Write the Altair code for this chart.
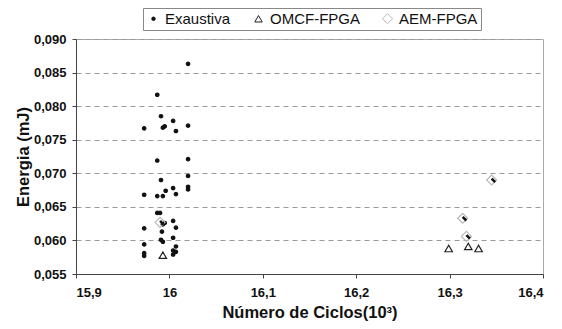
import altair as alt
import pandas as pd

# Exaustiva (black dots)
exa_x = [16.020, 15.987, 15.991, 16.004, 15.973, 15.993, 15.995, 16.007, 16.020,
         15.987, 16.020, 15.991, 16.020, 16.020, 16.020, 16.004, 15.996, 15.973,
         15.987, 15.993, 16.007, 15.987, 15.990, 16.004, 15.993, 15.995, 15.973,
         16.007, 15.992, 16.004, 15.991, 15.993, 15.973, 16.007, 16.007, 15.973,
         15.973, 16.004, 16.004]
exa_y = [0.0863, 0.0817, 0.0785, 0.0778, 0.0767, 0.0768, 0.0770, 0.0763, 0.0771,
         0.0719, 0.0721, 0.0690, 0.0696, 0.0680, 0.0676, 0.0678, 0.0674, 0.0668,
         0.0666, 0.0666, 0.0669, 0.0641, 0.0641, 0.0629, 0.0624, 0.0626, 0.0618,
         0.0619, 0.0613, 0.0604, 0.0601, 0.0598, 0.0594, 0.0591, 0.0583, 0.0581,
         0.0577, 0.0585, 0.0579]

# OMCF-FPGA (hollow triangles)
omcf_x = [15.993, 16.299, 16.320, 16.331]
omcf_y = [0.0578, 0.0588, 0.0591, 0.0588]

# AEM-FPGA (hollow diamonds)
aem_x = [15.990, 16.314, 16.318, 16.345]
aem_y = [0.0627, 0.0633, 0.0606, 0.0690]

series = ["Exaustiva", "OMCF-FPGA", "AEM-FPGA"]
x_ticks = [15.9, 16.0, 16.1, 16.2, 16.3, 16.4]
y_ticks = [0.055, 0.060, 0.065, 0.070, 0.075, 0.080, 0.085, 0.090]

rows = []
for name, xs, ys in [(series[0], exa_x, exa_y), (series[1], omcf_x, omcf_y), (series[2], aem_x, aem_y)]:
    for a, b in zip(xs, ys):
        rows.append({"ciclos": a, "energia": b, "serie": name})
df = pd.DataFrame(rows)

FONT = "Liberation Sans"

x_enc = alt.X("ciclos:Q",
              scale=alt.Scale(domain=[15.9, 16.4], nice=False, zero=False),
              axis=alt.Axis(values=x_ticks, grid=False, labelOverlap=False,
                            labelExpr="replace(format(datum.value, '.1~f'), '.', ',')",
                            title="Número de Ciclos(10³)", titlePadding=5))
y_enc = alt.Y("energia:Q",
              scale=alt.Scale(domain=[0.055, 0.090], nice=False, zero=False),
              axis=alt.Axis(values=y_ticks, tickCount=8, grid=True, labelOverlap=False,
                            labelExpr="replace(format(datum.value, '.3f'), '.', ',')",
                            title="Energia (mJ)", titleX=-53, titleY=117.5,
                            titleAlign="center", titleBaseline="middle", titleAngle=270))

leg = dict(title=None)
points = alt.Chart(df).mark_point(filled=False, opacity=1, strokeWidth=1.2).encode(
    x=x_enc,
    y=y_enc,
    shape=alt.Shape("serie:N", scale=alt.Scale(domain=series, range=["circle", "triangle-up", "diamond"]), legend=alt.Legend(**leg)),
    color=alt.Color("serie:N", scale=alt.Scale(domain=series, range=["#111111", "#222222", "#b8b8b8"]), legend=alt.Legend(**leg)),
    fill=alt.Fill("serie:N", scale=alt.Scale(domain=series, range=["#111111", "transparent", "transparent"]), legend=alt.Legend(**leg)),
    size=alt.Size("serie:N", scale=alt.Scale(domain=series, range=[12, 100, 80]), legend=alt.Legend(**leg)),
)

shadow = alt.Chart(df[df["serie"] == "AEM-FPGA"]).mark_point(
    shape="M 0 -0.3 L 0.8 0.5", filled=False, color="#111111", strokeWidth=2.5, size=80, opacity=1
).encode(x="ciclos:Q", y="energia:Q")

chart = alt.layer(points, shadow).properties(
    width=467, height=235,
    autosize=alt.AutoSizeParams(type="none"),
    padding={"left": 68, "top": 31, "right": 10, "bottom": 50},
).configure_view(
    stroke="#aaaaaa", strokeWidth=1
).configure_axis(
    labelFont=FONT, labelFontWeight="bold", labelFontSize=13, labelColor="#111",
    titleFont=FONT, titleFontWeight="bold", titleFontSize=16.5, titleColor="#111",
    domainColor="#444", tickColor="#444", tickSize=4, labelPadding=6,
    gridColor="#9a9a9a", gridDash=[5, 4], gridWidth=1
).configure_axisX(labelPadding=8).configure_legend(
    orient="none", legendX=67, legendY=-31, direction="horizontal",
    labelFont=FONT, labelFontSize=15, labelColor="#111",
    strokeColor="#888", padding=3, columnPadding=20, labelOffset=4,
    symbolStrokeWidth=1
)

chart.save("out.html", embed_options={"renderer": "svg", "actions": False})
